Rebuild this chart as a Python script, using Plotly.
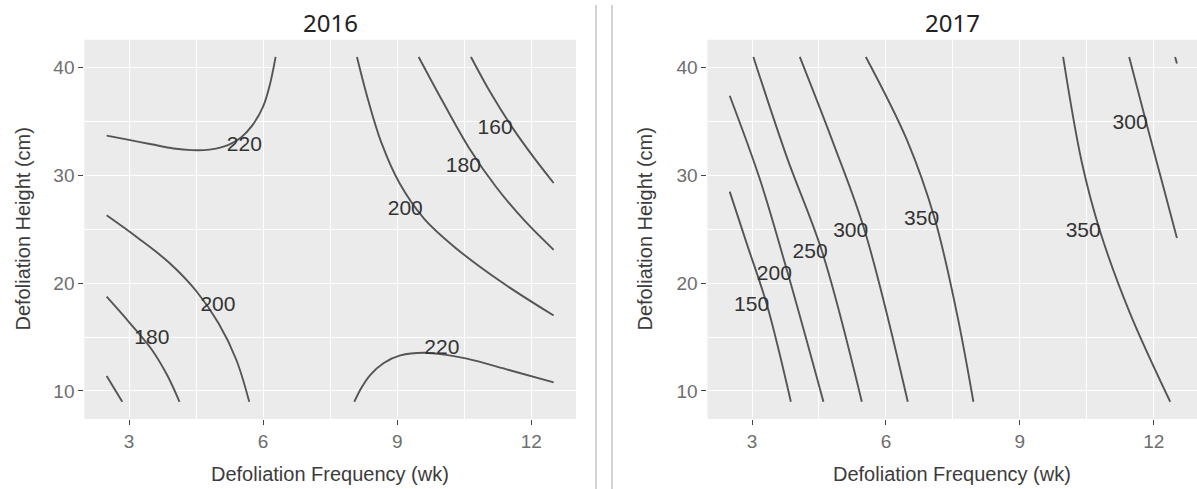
import plotly.graph_objects as go

# ---------------- axes / text ----------------
x_ticks = [3, 6, 9, 12]
y_ticks = [10, 20, 30, 40]
x_minor = [4.5, 7.5, 10.5]
y_minor = [15, 25, 35]
panel_titles = ["2016", "2017"]
x_title = "Defoliation Frequency (wk)"
y_title = "Defoliation Height (cm)"

# ---------------- 2016 contour lines ----------------
c16_160a_x = [2.5, 2.85]
c16_160a_y = [11.4, 9.0]
c16_180a_x = [2.5, 3.0, 3.5, 3.85, 4.13]
c16_180a_y = [18.75, 16.4, 13.9, 11.5, 9.0]
c16_200a_x = [2.5, 3.2, 3.9, 4.5, 5.0, 5.4, 5.69]
c16_200a_y = [26.3, 24.2, 21.9, 19.3, 16.3, 12.9, 9.0]
c16_220a_x = [2.5, 3.0, 3.5, 4.0, 4.4, 4.8, 5.2, 5.5, 5.75, 6.0, 6.15, 6.28]
c16_220a_y = [33.7, 33.3, 32.9, 32.5, 32.35, 32.4, 32.8, 33.5, 34.6, 36.4, 38.4, 41.0]
c16_200b_x = [8.1, 8.35, 8.65, 9.05, 9.6, 10.3, 11.3, 12.5]
c16_200b_y = [41.0, 37.0, 33.0, 29.3, 26.0, 23.3, 20.2, 17.0]
c16_180b_x = [9.48, 10.0, 10.6, 11.2, 11.85, 12.5]
c16_180b_y = [41.0, 37.0, 32.6, 29.0, 25.8, 23.1]
c16_160b_x = [10.65, 11.1, 11.6, 12.05, 12.5]
c16_160b_y = [41.0, 37.6, 34.3, 31.7, 29.3]
c16_220b_x = [8.04, 8.2, 8.4, 8.7, 9.07, 9.6, 10.1, 10.56, 11.5, 12.5]
c16_220b_y = [9.0, 10.3, 11.5, 12.6, 13.3, 13.55, 13.35, 13.0, 11.95, 10.8]

lab16_text = ["220", "200", "180", "200", "180", "160", "220"]
lab16_x = [5.58, 4.99, 3.51, 9.18, 10.48, 11.19, 10.0]
lab16_y = [32.8, 17.9, 14.8, 26.8, 30.8, 34.3, 13.96]

# ---------------- 2017 contour lines ----------------
c17_150_x = [2.5, 2.88, 3.34, 3.87]
c17_150_y = [28.5, 23.7, 17.9, 9.0]
c17_200_x = [2.5, 3.18, 3.81, 4.6]
c17_200_y = [37.4, 29.6, 20.8, 9.0]
c17_250_x = [3.03, 3.78, 4.58, 5.46]
c17_250_y = [41.0, 31.7, 22.8, 9.0]
c17_300_x = [4.07, 4.82, 5.53, 6.49]
c17_300_y = [41.0, 33.0, 24.8, 9.0]
c17_350a_x = [5.55, 6.47, 7.1, 7.59, 7.96]
c17_350a_y = [41.0, 33.3, 25.9, 17.2, 9.0]
c17_350b_x = [9.97, 10.39, 10.8, 11.47, 12.37]
c17_350b_y = [41.0, 31.2, 24.8, 17.2, 9.0]
c17_300b_x = [11.45, 11.84, 12.18, 12.52]
c17_300b_y = [41.0, 34.8, 29.5, 24.2]
c17_250b_x = [12.48, 12.52]
c17_250b_y = [41.0, 40.4]

lab17_text = ["150", "200", "250", "300", "350", "350", "300"]
lab17_x = [2.99, 3.5, 4.3, 5.21, 6.8, 10.42, 11.47]
lab17_y = [17.9, 20.8, 22.8, 24.8, 25.9, 24.8, 34.8]

lines16 = [(c16_160a_x, c16_160a_y), (c16_180a_x, c16_180a_y), (c16_200a_x, c16_200a_y),
           (c16_220a_x, c16_220a_y), (c16_200b_x, c16_200b_y), (c16_180b_x, c16_180b_y),
           (c16_160b_x, c16_160b_y), (c16_220b_x, c16_220b_y)]
lines17 = [(c17_150_x, c17_150_y), (c17_200_x, c17_200_y), (c17_250_x, c17_250_y),
           (c17_300_x, c17_300_y), (c17_350a_x, c17_350a_y), (c17_350b_x, c17_350b_y),
           (c17_300b_x, c17_300b_y), (c17_250b_x, c17_250b_y)]

W, H = 1197, 489
FONT = "Liberation Sans, Arial, sans-serif"
LINE_COLOR = "#555555"
LABEL_COLOR = "#333333"

fig = go.Figure()

for (lx, ly) in lines16:
    fig.add_trace(go.Scatter(x=lx, y=ly, mode="lines", line=dict(color=LINE_COLOR, width=1.9, shape="spline"),
                             xaxis="x", yaxis="y", hoverinfo="skip", showlegend=False))
fig.add_trace(go.Scatter(x=lab16_x, y=lab16_y, text=lab16_text, mode="text",
                         textfont=dict(family=FONT, size=21, color=LABEL_COLOR),
                         xaxis="x", yaxis="y", hoverinfo="skip", showlegend=False))

for (lx, ly) in lines17:
    fig.add_trace(go.Scatter(x=lx, y=ly, mode="lines", line=dict(color=LINE_COLOR, width=1.9, shape="spline"),
                             xaxis="x2", yaxis="y2", hoverinfo="skip", showlegend=False))
fig.add_trace(go.Scatter(x=lab17_x, y=lab17_y, text=lab17_text, mode="text",
                         textfont=dict(family=FONT, size=21, color=LABEL_COLOR),
                         xaxis="x2", yaxis="y2", hoverinfo="skip", showlegend=False))

def xax(domain, rng):
    return dict(domain=domain, range=rng, tickmode="array", tickvals=x_ticks,
                ticktext=[str(v) for v in x_ticks], showgrid=True, gridcolor="white", gridwidth=1.3,
                zeroline=False, showline=False, ticks="outside", ticklen=5, tickwidth=1,
                tickcolor="#444444", tickfont=dict(family=FONT, size=19, color="#6e6e6e"),
                minor=dict(tickmode="array", tickvals=x_minor, showgrid=True, gridcolor="white",
                           gridwidth=0.6, ticks=""), fixedrange=True)

def yax(domain, anchor):
    return dict(domain=domain, range=[7.4, 42.6], anchor=anchor, tickmode="array", tickvals=y_ticks,
                ticktext=[str(v) for v in y_ticks], showgrid=True, gridcolor="white", gridwidth=1.3,
                zeroline=False, showline=False, ticks="outside", ticklen=5, tickwidth=1,
                tickcolor="#444444", tickfont=dict(family=FONT, size=19, color="#6e6e6e"),
                minor=dict(tickmode="array", tickvals=y_minor, showgrid=True, gridcolor="white",
                           gridwidth=0.6, ticks=""), fixedrange=True)

ydom = [1 - 419 / H, 1 - 39.7 / H]
fig.update_layout(
    width=W, height=H, autosize=False,
    margin=dict(l=0, r=0, t=0, b=0),
    paper_bgcolor="white", plot_bgcolor="#EBEBEB",
    xaxis=dict(**xax([84.3 / W, 576 / W], [2, 13]), anchor="y"),
    yaxis=yax(ydom, "x"),
    xaxis2=dict(**xax([707.4 / W, 1.0], [2, 12.97]), anchor="y2"),
    yaxis2=yax(ydom, "x2"),
    showlegend=False,
)

ann = []
for t, cx in zip(panel_titles, [330, 952]):
    ann.append(dict(text=t, x=cx / W, y=1 - 22 / H, xref="paper", yref="paper", showarrow=False,
                    xanchor="center", yanchor="middle",
                    font=dict(family="Noto Sans, sans-serif", size=24, color="#222222")))
for cx in [330, 952]:
    ann.append(dict(text=x_title, x=cx / W, y=1 - 474 / H, xref="paper", yref="paper", showarrow=False,
                    xanchor="center", yanchor="middle", font=dict(family=FONT, size=20, color="#3c3c3c")))
for cx in [23, 645]:
    ann.append(dict(text=y_title, x=cx / W, y=1 - 229.5 / H, xref="paper", yref="paper", showarrow=False,
                    textangle=-90, xanchor="center", yanchor="middle",
                    font=dict(family=FONT, size=20, color="#3c3c3c")))
fig.update_layout(annotations=ann)

shapes = []
for px in [596, 612]:
    shapes.append(dict(type="line", xref="paper", yref="paper", x0=px / W, x1=px / W, y0=0, y1=1 - 5 / H,
                       line=dict(color="#c4c4c4", width=1.5)))
fig.update_layout(shapes=shapes)

fig.write_html("out.html", config={"displayModeBar": False},
               post_script="document.body.style.margin='0';document.body.style.overflow='hidden';")
